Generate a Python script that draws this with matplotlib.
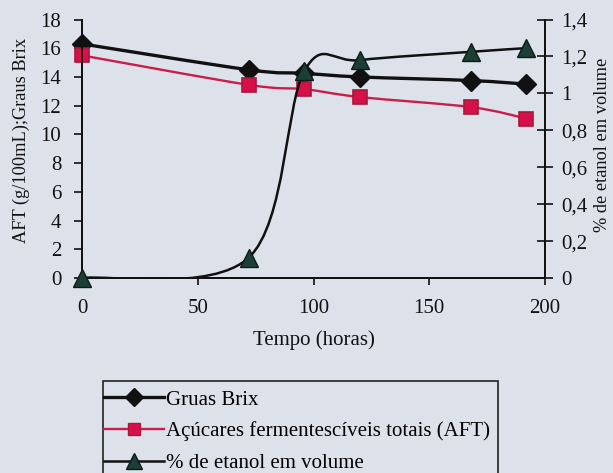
import numpy as np
import matplotlib
matplotlib.use("Agg")
import matplotlib.pyplot as plt
from matplotlib.path import Path
from matplotlib.patches import PathPatch, Rectangle
from matplotlib.lines import Line2D

plt.rcParams['font.family'] = ['Liberation Serif', 'DejaVu Serif']

# fermentation readings
horas = [0, 72, 96, 120, 168, 192]
brix = [16.3, 14.5, 14.25, 14.0, 13.75, 13.5]
aft = [15.5, 13.45, 13.15, 12.6, 11.9, 11.1]
etanol = [0.0, 0.11, 1.12, 1.18, 1.225, 1.245]

left_ticks = list(range(0, 19, 2))
right_ticks = [0, 0.2, 0.4, 0.6, 0.8, 1.0, 1.2, 1.4]
right_labels = ['0', '0,2', '0,4', '0,6', '0,8', '1', '1,2', '1,4']

bg = '#dde2ea'
red = '#c81e4a'
green = '#1b3f35'
ink = '#111111'
fs = 15
fs_title = 13.2


def smooth_path(x, y):
    # Bezier curve through the points, same idea as the spreadsheet "smoothed line"
    x = np.asarray(x, float)
    y = np.asarray(y, float)
    px = np.concatenate([[x[0]], x, [x[-1]]])
    py = np.concatenate([[y[0]], y, [y[-1]]])
    verts = [(x[0], y[0])]
    codes = [Path.MOVETO]
    for i in range(1, len(x)):
        c1 = (px[i] + (px[i + 1] - px[i - 1]) / 6, py[i] + (py[i + 1] - py[i - 1]) / 6)
        c2 = (px[i + 1] - (px[i + 2] - px[i]) / 6, py[i + 1] - (py[i + 2] - py[i]) / 6)
        verts += [c1, c2, (px[i + 1], py[i + 1])]
        codes += [Path.CURVE4] * 3
    return Path(verts, codes)


fig = plt.figure(figsize=(6.13, 4.73), dpi=100, facecolor=bg)
ax = fig.add_axes([82 / 613, 1 - 278 / 473, 463 / 613, 258.5 / 473])
ax.set_facecolor(bg)
ax2 = ax.twinx()

ax.add_patch(PathPatch(smooth_path(horas, brix), fill=False, edgecolor=ink, lw=2.4, zorder=3))
ax.plot(horas, brix, ls='none', marker='D', ms=10, color=ink, clip_on=False, zorder=4)
ax.add_patch(PathPatch(smooth_path(horas, aft), fill=False, edgecolor=red, lw=1.7, zorder=3))
ax.plot(horas, aft, ls='none', marker='s', ms=9.5, mfc='#d8104a', mec='#a8183c', mew=1.2,
        clip_on=False, zorder=4)

ax2.add_patch(PathPatch(smooth_path(horas, etanol), fill=False, edgecolor=ink, lw=1.8, zorder=3))
ax2.plot(horas, etanol, ls='none', marker='^', ms=12.5, mfc=green, mec='#0c1c18', mew=1,
         clip_on=False, zorder=4)

ax.set_xlim(0, 200)
ax.set_ylim(0, 18)
ax2.set_ylim(0, 1.4)
ax.set_xticks([0, 50, 100, 150, 200])
ax.set_yticks(left_ticks)
ax2.set_yticks(right_ticks)
ax2.set_yticklabels(right_labels)

for a in (ax, ax2):
    a.spines['top'].set_visible(False)
    for s in a.spines.values():
        s.set_linewidth(1.3)
        s.set_color(ink)

ax.tick_params(axis='y', direction='out', length=6, width=1.2, pad=9, labelsize=fs, colors=ink)
ax.tick_params(axis='x', direction='out', length=5, width=1.2, pad=10, labelsize=fs, colors=ink)
ax2.tick_params(axis='y', direction='inout', length=12, width=1.2, pad=6, labelsize=fs, colors=ink)

ax.set_ylabel('AFT (g/100mL);Graus Brix', fontsize=fs_title, color=ink)
ax.yaxis.set_label_coords(-0.132, 0.532)
ax.yaxis.label.set_va('center')
ax2.set_ylabel('% de etanol em volume', fontsize=fs_title, color=ink, rotation=90)
ax2.yaxis.set_label_coords(1.125, 0.515)
ax2.yaxis.label.set_va('center')
ax.set_xlabel('Tempo (horas)', fontsize=fs, color=ink)
ax.xaxis.set_label_coords(0.5, -0.24)
ax.xaxis.label.set_va('center')

# legend box runs past the lower edge
fig.patches.append(Rectangle((103 / 613, -0.05), (498 - 103) / 613, 0.05 + 1 - 381 / 473,
                             transform=fig.transFigure, fill=False, edgecolor='#222222', lw=1.2))
handles = [
    Line2D([], [], color=ink, lw=2.4, marker='D', ms=9, label='Gruas Brix'),
    Line2D([], [], color=red, lw=1.7, marker='s', ms=9, mfc='#d8104a', mec='#a8183c',
           label='Açúcares fermentescíveis totais (AFT)'),
    Line2D([], [], color=ink, lw=1.8, marker='^', ms=11, mfc=green, mec='#0c1c18',
           label='% de etanol em volume'),
]
fig.legend(handles=handles, loc='upper left', bbox_to_anchor=(104 / 613, 1 - 390 / 473),
           frameon=False, fontsize=fs, handlelength=2.9, handletextpad=0.1,
           labelspacing=0.57, borderpad=0, borderaxespad=0)

fig.savefig('out.png', dpi=100, facecolor=bg)
